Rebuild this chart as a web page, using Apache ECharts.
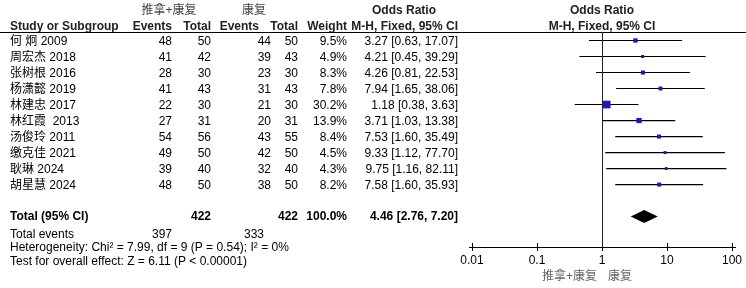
<!DOCTYPE html>
<html>
<head>
<meta charset="utf-8">
<script src="https://cdn.jsdelivr.net/npm/echarts@6/dist/echarts.min.js"></script>
<style>
  html, body { margin: 0; padding: 0; background: #fff; }
  #forest { width: 746px; height: 288px; }
</style>
</head>
<body>
<div id="forest"></div>
<script>
// 研究数据
var studies = ['何 炯 2009', '周宏杰 2018', '张树根 2016', '杨潇懿 2019', '林建忠 2017',
    '林红霞  2013', '汤俊玲 2011', '缴克佳 2021', '耿琳 2024', '胡星慧 2024'];
var expEvents = [48, 41, 28, 41, 22, 27, 54, 49, 39, 48];
var expTotal = [50, 42, 30, 43, 30, 31, 56, 50, 40, 50];
var ctrlEvents = [44, 39, 23, 31, 21, 20, 43, 42, 32, 38];
var ctrlTotal = [50, 43, 30, 43, 30, 31, 55, 50, 40, 50];
var weights = [9.5, 4.9, 8.3, 7.8, 30.2, 13.9, 8.4, 4.5, 4.3, 8.2];
var oddsRatio = [3.27, 4.21, 4.26, 7.94, 1.18, 3.71, 7.53, 9.33, 9.75, 7.58];
var ciLow = [0.63, 0.45, 0.81, 1.65, 0.38, 1.03, 1.60, 1.12, 1.16, 1.60];
var ciHigh = [17.07, 39.29, 22.53, 38.06, 3.63, 13.38, 35.49, 77.70, 82.11, 35.93];
// 合并结果
var totalOR = [4.46, 2.76, 7.20];
var totalExp = [397, 422];
var totalCtrl = [333, 422];

var FONT = '"Liberation Sans", Arial, "Noto Sans CJK SC", sans-serif';
var totalRow = 11;

var dom = document.getElementById('forest');
var chart = echarts.init(dom, null, { renderer: 'canvas' });

function fmt2(v) { return v.toFixed(2); }

var option = {
    animation: false,
    grid: { left: 472, right: 14, top: 32, bottom: 41 },
    xAxis: [
        {
            type: 'log', logBase: 10, min: 0.01, max: 100,
            axisLine: { show: true, onZero: false, lineStyle: { color: '#000', width: 1 } },
            axisTick: { show: true, length: 4, lineStyle: { color: '#000' } },
            axisLabel: {
                color: '#000', fontSize: 12, fontFamily: FONT, margin: 8,
                formatter: function (v) { return String(+(+v).toPrecision(2)); }
            },
            splitLine: { show: false }
        },
        {
            type: 'log', logBase: 10, min: 0.01, max: 100, position: 'bottom',
            axisLine: { show: false, onZero: false },
            axisTick: { show: true, inside: true, length: 4, lineStyle: { color: '#000' } },
            axisLabel: { show: false },
            splitLine: { show: false }
        }
    ],
    yAxis: { type: 'value', min: -0.53, max: 12.9, inverse: true, show: false },
    series: [
        {
            // 置信区间
            type: 'custom',
            data: studies.map(function (s, i) { return [ciLow[i], i, ciHigh[i]]; }),
            encode: { x: [0, 2], y: 1 },
            renderItem: function (params, api) {
                var a = api.coord([api.value(0), api.value(1)]);
                var b = api.coord([api.value(2), api.value(1)]);
                return {
                    type: 'line',
                    shape: { x1: a[0], y1: a[1], x2: b[0], y2: b[1] },
                    style: { stroke: '#000', lineWidth: 1.2 }
                };
            },
            markLine: {
                silent: true, symbol: 'none', label: { show: false },
                lineStyle: { color: '#222', width: 1, type: 'solid' },
                data: [{ xAxis: 1 }]
            },
            z: 2
        },
        {
            type: 'scatter',
            data: oddsRatio.map(function (v, i) { return [v, i]; }),
            symbol: 'rect',
            symbolSize: function (val, params) { return 1.4 * Math.sqrt(weights[params.dataIndex]); },
            itemStyle: { color: '#1818bd', opacity: 1 },
            z: 3
        },
        {
            // 合并菱形
            type: 'custom',
            data: [[totalOR[1], totalRow, totalOR[0], totalOR[2]]],
            encode: { x: [0, 2, 3], y: 1 },
            renderItem: function (params, api) {
                var y = api.value(1);
                var l = api.coord([api.value(0), y]);
                var c = api.coord([api.value(2), y]);
                var r = api.coord([api.value(3), y]);
                var h = 6.5;
                return {
                    type: 'polygon',
                    shape: { points: [[l[0], c[1]], [c[0], c[1] - h], [r[0], c[1]], [c[0], c[1] + h]] },
                    style: { fill: '#000' }
                };
            },
            z: 3
        }
    ]
};
chart.setOption(option);

// 表格文字
function txt(x, y, s, align, opts) {
    opts = opts || {};
    return {
        type: 'text', x: x, y: y, silent: true,
        style: {
            text: s, x: 0, y: 0, align: align || 'left', verticalAlign: 'middle',
            font: (opts.bold ? 'bold ' : '') + (opts.size || 12) + 'px ' + FONT,
            fill: opts.color || '#000'
        }
    };
}

var g = [];
var rowY = function (i) { return chart.convertToPixel({ yAxisIndex: 0 }, i) + 1.5; };

// 表头
g.push(txt(169, 11, '推拿+康复', 'center', { color: '#444' }));
g.push(txt(254, 11, '康复', 'center', { color: '#444' }));
g.push(txt(404, 11, 'Odds Ratio', 'center', { bold: true, color: '#222' }));
g.push(txt(602, 11, 'Odds Ratio', 'center', { bold: true, color: '#222' }));
g.push(txt(10, 27, 'Study or Subgroup', 'left', { bold: true, color: '#222' }));
g.push(txt(172, 27, 'Events', 'right', { bold: true, color: '#222' }));
g.push(txt(211, 27, 'Total', 'right', { bold: true, color: '#222' }));
g.push(txt(259, 27, 'Events', 'right', { bold: true, color: '#222' }));
g.push(txt(298, 27, 'Total', 'right', { bold: true, color: '#222' }));
g.push(txt(347, 27, 'Weight', 'right', { bold: true, color: '#222' }));
g.push(txt(458, 27, 'M-H, Fixed, 95% CI', 'right', { bold: true, color: '#222' }));
g.push(txt(602, 27, 'M-H, Fixed, 95% CI', 'center', { bold: true, color: '#222' }));
g.push({
    type: 'line', silent: true,
    shape: { x1: 0, y1: 32.5, x2: 746, y2: 32.5 },
    style: { stroke: '#000', lineWidth: 1 }
});
// 轴线两端略微延长
g.push({
    type: 'line', silent: true,
    shape: { x1: 469, y1: 247.5, x2: 736, y2: 247.5 },
    style: { stroke: '#000', lineWidth: 1 }
});

studies.forEach(function (s, i) {
    var y = rowY(i);
    g.push(txt(10, y, s, 'left'));
    g.push(txt(172, y, String(expEvents[i]), 'right'));
    g.push(txt(211, y, String(expTotal[i]), 'right'));
    g.push(txt(271, y, String(ctrlEvents[i]), 'right'));
    g.push(txt(298, y, String(ctrlTotal[i]), 'right'));
    g.push(txt(347, y, weights[i].toFixed(1) + '%', 'right'));
    g.push(txt(458, y, fmt2(oddsRatio[i]) + ' [' + fmt2(ciLow[i]) + ', ' + fmt2(ciHigh[i]) + ']', 'right'));
});

var ty = rowY(totalRow) - 1;
g.push(txt(10, ty, 'Total (95% CI)', 'left', { bold: true }));
g.push(txt(211, ty, String(totalExp[1]), 'right', { bold: true }));
g.push(txt(298, ty, String(totalCtrl[1]), 'right', { bold: true }));
g.push(txt(347, ty, '100.0%', 'right', { bold: true }));
g.push(txt(458, ty, fmt2(totalOR[0]) + ' [' + fmt2(totalOR[1]) + ', ' + fmt2(totalOR[2]) + ']', 'right', { bold: true }));

g.push(txt(10, 235, 'Total events', 'left'));
g.push(txt(172, 235, String(totalExp[0]), 'right'));
g.push(txt(264, 235, String(totalCtrl[0]), 'right'));
g.push(txt(10, 248, 'Heterogeneity: Chi² = 7.99, df = 9 (P = 0.54); I² = 0%', 'left'));
g.push(txt(10, 262, 'Test for overall effect: Z = 6.11 (P < 0.00001)', 'left'));

// 轴下方标签
g.push(txt(597, 277, '推拿+康复', 'right', { color: '#666' }));
g.push(txt(608, 277, '康复', 'left', { color: '#666' }));

chart.setOption({ graphic: g });
</script>
</body>
</html>
